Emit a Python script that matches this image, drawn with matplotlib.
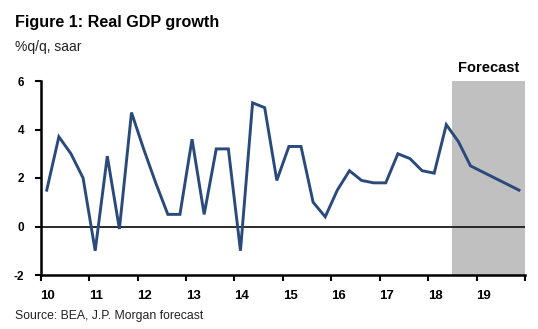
import matplotlib
matplotlib.use("Agg")
import matplotlib.pyplot as plt
import numpy as np

plt.rcParams['font.family'] = ['Liberation Sans', 'DejaVu Sans']

years = [2010, 2011, 2012, 2013, 2014, 2015, 2016, 2017, 2018, 2019]
year_labels = ["10", "11", "12", "13", "14", "15", "16", "17", "18", "19"]
growth = [
    1.5, 3.7, 3.0, 2.0,
    -1.0, 2.9, -0.1, 4.7,
    3.2, 1.8, 0.5, 0.5,
    3.6, 0.5, 3.2, 3.2,
    -1.0, 5.1, 4.9, 1.9,
    3.3, 3.3, 1.0, 0.4,
    1.5, 2.3, 1.9, 1.8,
    1.8, 3.0, 2.8, 2.3,
    2.2, 4.2, 3.5, 2.5,
    2.25, 2.0, 1.75, 1.5,
]
forecast_start = 2018.5
forecast_end = 2020.0
y_ticks = [-2, 0, 2, 4, 6]

x = np.array([2010 + (i + 0.5) / 4 for i in range(len(growth))])

fig = plt.figure(figsize=(5.38, 3.29), dpi=100)
ax = fig.add_axes([40.7/538, 54/329, (525-40.7)/538, (275-81)/329])

ax.axvspan(forecast_start, forecast_end, color='#c0c0c0', lw=0, zorder=0)
ax.axhline(0, color='#1a1a1a', lw=1.3, zorder=1)
ax.plot(x, growth, color='#2a4a7c', lw=2.1, zorder=3, solid_joinstyle='miter')

ax.set_xlim(2010, 2020)
ax.set_ylim(-2, 6)
ax.set_yticks(y_ticks)
ax.set_yticklabels([str(v) for v in y_ticks], fontweight='bold', fontsize=8.5)
ax.set_xticks(list(years) + [2020])
ax.set_xticklabels([""] * 11)
ax.set_xticks([y + 0.15 for y in years], minor=True)
ax.set_xticklabels(year_labels, minor=True, fontweight='bold', fontsize=9.5)
ax.tick_params(axis='x', which='minor', length=0, pad=11)
ax.tick_params(axis='x', which='major', direction='out', length=4, width=1.5, color='black')
ax.tick_params(axis='y', direction='out', length=4, width=1.5, pad=8)

for s in ['top', 'right']:
    ax.spines[s].set_visible(False)
ax.spines['left'].set_linewidth(1.8)
ax.spines['bottom'].set_linewidth(1.8)

ax.text((forecast_start + forecast_end) / 2, 6.25, "Forecast", ha='center', va='bottom',
        fontweight='bold', fontsize=10.5)

fig.text(15/538, 1 - 23/329, "Figure 1: Real GDP growth", fontsize=11.6, fontweight='bold',
         ha='left', va='center')
fig.text(15/538, 1 - 47.5/329, "%q/q, saar", fontsize=10, ha='left', va='center', color='#222222')
fig.text(15/538, 1 - 316/329, "Source: BEA, J.P. Morgan forecast", fontsize=8.8, ha='left',
         va='center', color='#222222')

fig.savefig("out.png", dpi=100)
